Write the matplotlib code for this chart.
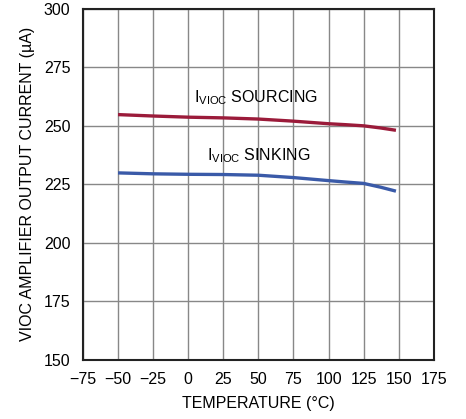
import numpy as np
import matplotlib
matplotlib.use("Agg")
import matplotlib.pyplot as plt

plt.rcParams['font.family'] = ['Liberation Sans Narrow', 'Liberation Sans', 'DejaVu Sans']

temp_src = [-50, -25, 0, 25, 50, 75, 100, 112, 125, 137, 148]
sourcing = [254.8, 254.2, 253.7, 253.4, 252.9, 252.0, 250.9, 250.5, 250.0, 249.1, 248.1]

temp_snk = [-50, -25, 0, 25, 50, 75, 100, 112, 125, 137, 148]
sinking = [229.9, 229.5, 229.3, 229.2, 228.9, 227.9, 226.6, 226.0, 225.4, 223.8, 222.1]

xticks = [-75, -50, -25, 0, 25, 50, 75, 100, 125, 150, 175]
yticks = [150, 175, 200, 225, 250, 275, 300]

fig = plt.figure(figsize=(4.66, 4.19), dpi=100)
ax = fig.add_axes([0.178, 0.141, 0.753, 0.838])

ax.plot(temp_src, sourcing, color='#9b1b3a', lw=2.4, solid_capstyle='butt')
ax.plot(temp_snk, sinking, color='#3a5aa8', lw=2.4, solid_capstyle='butt')

ax.text(48, 262, r'I$_{\mathregular{VIOC}}$ SOURCING', ha='center', va='center', fontsize=11.5)
ax.text(50, 237.3, r'I$_{\mathregular{VIOC}}$ SINKING', ha='center', va='center', fontsize=11.5)

ax.set_xlim(-75, 175)
ax.set_ylim(150, 300)
ax.set_xticks(xticks)
ax.set_yticks(yticks)
ax.set_xticklabels([str(t).replace('-', '\u2212') for t in xticks])
ax.grid(True, color='#888888', lw=1.0)
ax.tick_params(length=0, labelsize=11.5)
ax.tick_params(axis='x', pad=9)
ax.tick_params(axis='y', pad=9)
for s in ax.spines.values():
    s.set_linewidth(1.5)
    s.set_color('#222222')

ax.set_xlabel('TEMPERATURE (°C)', fontsize=11.5, labelpad=6)
ax.set_ylabel('VIOC AMPLIFIER OUTPUT CURRENT (µA)', fontsize=11.5, labelpad=6)

fig.savefig('out.png', dpi=100)
